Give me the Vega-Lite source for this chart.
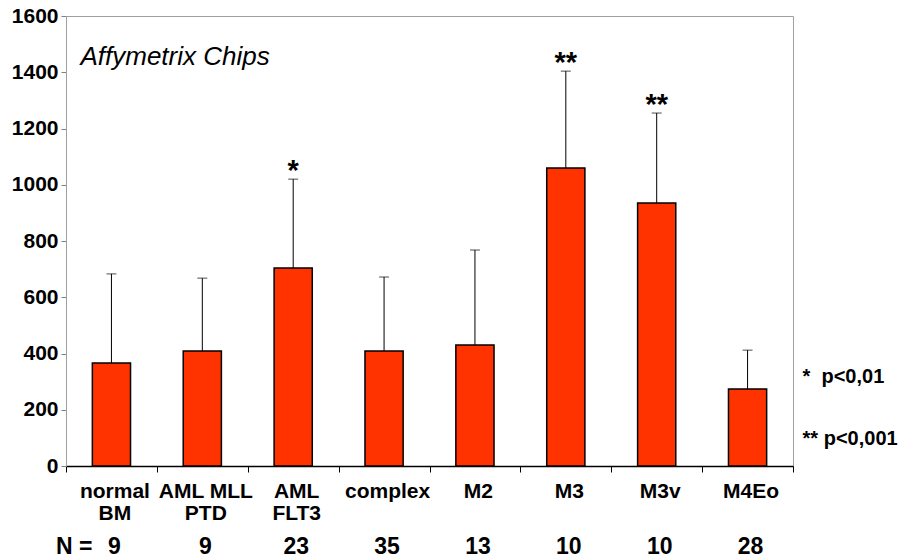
{
  "$schema": "https://vega.github.io/schema/vega-lite/v6.json",
  "width": 727,
  "height": 450,
  "autosize": "none",
  "padding": {"left": 66, "top": 16, "right": 109, "bottom": 92},
  "background": "white",
  "view": {"stroke": "#a0a0a0", "strokeWidth": 1},
  "config": {"font": "Liberation Sans"},
  "data": {
    "values": [
      {"cat": "normal BM", "mean": 366, "upper": 683, "n": "9", "star": ""},
      {"cat": "AML MLL PTD", "mean": 409, "upper": 668, "n": "9", "star": ""},
      {"cat": "AML FLT3", "mean": 704, "upper": 1020, "n": "23", "star": "*"},
      {"cat": "complex", "mean": 409, "upper": 672, "n": "35", "star": ""},
      {"cat": "M2", "mean": 430, "upper": 768, "n": "13", "star": ""},
      {"cat": "M3", "mean": 1060, "upper": 1404, "n": "10", "star": "**"},
      {"cat": "M3v", "mean": 935, "upper": 1255, "n": "10", "star": "**"},
      {"cat": "M4Eo", "mean": 274, "upper": 412, "n": "28", "star": ""}
    ]
  },
  "encoding": {
    "x": {
      "field": "cat",
      "type": "nominal",
      "sort": null,
      "scale": {"paddingInner": 0, "paddingOuter": 0},
      "axis": {
        "title": null,
        "labelAngle": 0,
        "labelExpr": "datum.label == 'normal BM' ? ['normal','BM'] : datum.label == 'AML MLL PTD' ? ['AML MLL','PTD'] : datum.label == 'AML FLT3' ? ['AML','FLT3'] : datum.label",
        "labelFont": "Liberation Sans",
        "labelFontSize": 21,
        "labelFontWeight": "bold",
        "labelColor": "black",
        "labelLineHeight": 22,
        "labelPadding": 8,
        "labelOffset": 3,
        "tickBand": "extent",
        "tickSize": 6,
        "tickColor": "black",
        "domainColor": "black",
        "domainWidth": 1.5,
        "grid": false
      }
    }
  },
  "layer": [
    {
      "mark": {"type": "bar", "width": {"band": 0.42}, "fill": "#ff3300", "stroke": "black", "strokeWidth": 1.5},
      "encoding": {
        "y": {
          "field": "mean",
          "type": "quantitative",
          "scale": {"domain": [0, 1600], "nice": false},
          "axis": {
            "title": null,
            "values": [0, 200, 400, 600, 800, 1000, 1200, 1400, 1600],
            "format": "d",
            "labelFont": "Liberation Sans",
            "labelFontSize": 21,
            "labelFontWeight": "bold",
            "labelColor": "black",
            "labelPadding": 3,
            "tickSize": 5,
            "tickColor": "#808080",
            "domainColor": "#a0a0a0",
            "grid": false
          }
        }
      }
    },
    {
      "mark": {"type": "rule", "color": "black", "strokeWidth": 1},
      "encoding": {"y": {"field": "mean", "type": "quantitative"}, "y2": {"field": "upper"}}
    },
    {
      "mark": {"type": "tick", "color": "black", "size": 10, "thickness": 1},
      "encoding": {"y": {"field": "upper", "type": "quantitative"}}
    },
    {
      "mark": {"type": "text", "fontSize": 29, "fontWeight": "bold", "baseline": "alphabetic", "dy": 1, "font": "Liberation Sans"},
      "encoding": {"y": {"field": "upper", "type": "quantitative"}, "text": {"field": "star"}}
    },
    {
      "mark": {"type": "text", "fontSize": 23, "fontWeight": "bold", "baseline": "alphabetic", "font": "Liberation Sans", "dx": 3},
      "encoding": {"y": {"datum": -313}, "text": {"field": "n"}}
    },
    {
      "data": {"values": [{"cat": "normal BM", "t": "N ="}]},
      "mark": {"type": "text", "fontSize": 23, "fontWeight": "bold", "align": "right", "baseline": "alphabetic", "font": "Liberation Sans", "dx": -19},
      "encoding": {"y": {"datum": -313}, "text": {"field": "t"}}
    },
    {
      "data": {"values": [{"cat": "normal BM", "t": "Affymetrix Chips", "v": 1426}]},
      "mark": {"type": "text", "fontSize": 26, "fontStyle": "italic", "align": "left", "baseline": "alphabetic", "font": "Liberation Sans", "dx": -31},
      "encoding": {"y": {"field": "v", "type": "quantitative"}, "text": {"field": "t"}}
    },
    {
      "data": {"values": [{"cat": "M4Eo", "t": "*\u00a0\u00a0p<0,01", "v": 295}, {"cat": "M4Eo", "t": "**\u00a0p<0,001", "v": 74}]},
      "mark": {"type": "text", "fontSize": 20, "fontWeight": "bold", "align": "left", "baseline": "alphabetic", "font": "Liberation Sans", "dx": 55},
      "encoding": {"y": {"field": "v", "type": "quantitative"}, "text": {"field": "t"}}
    }
  ]
}
